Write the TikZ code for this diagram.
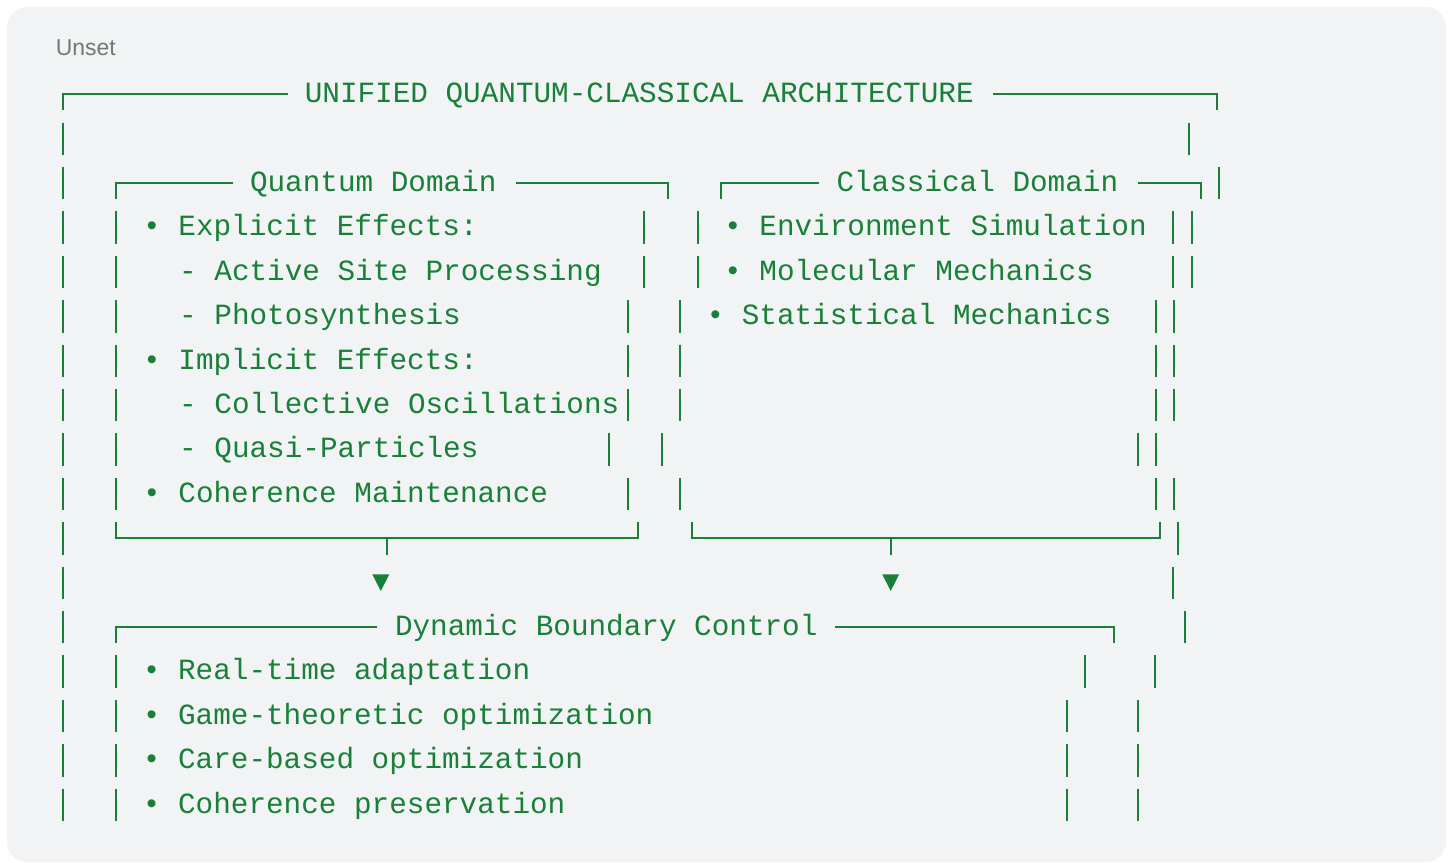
\documentclass[tikz,border=0pt]{standalone}
\usepackage{fontspec}
\setmonofont{Liberation Mono}
\newfontfamily\labelfont{Liberation Sans}
\definecolor{codegreen}{HTML}{188038}
\definecolor{codebg}{HTML}{F1F3F4}
\definecolor{labelgrey}{HTML}{747775}
\tikzset{
  boxline/.style={draw=codegreen, line width=1.5pt, line cap=butt, line join=miter},
  codetext/.style={anchor=base west, inner sep=0pt, outer sep=0pt, text=codegreen,
    font=\ttfamily\fontsize{22}{26}\selectfont},
  arrowtri/.style={fill=codegreen, draw=none},
}
% baseline of text row #1 (in px, y downwards)
\newcommand\setrow[1]{\pgfmathsetmacro\rowy{102.7+44.4*(#1)}}
% vertical bar: x, row
\newcommand\boxV[2]{\setrow{#2}\draw[boxline] (#1,\rowy-24.5) -- (#1,\rowy+7.8);}
% top-left corner at x1, line to x2: x1, x2, row
\newcommand\boxTL[3]{\setrow{#3}\draw[boxline] (#2,\rowy-8.4) -- (#1,\rowy-8.4) -- (#1,\rowy+7.8);}
% line from x1 to top-right corner at x2
\newcommand\boxTR[3]{\setrow{#3}\draw[boxline] (#1,\rowy-8.4) -- (#2,\rowy-8.4) -- (#2,\rowy+7.8);}
% bottom edge with corners at x1 and x2
\newcommand\boxBT[3]{\setrow{#3}\draw[boxline] (#1,\rowy-24.5) -- (#1,\rowy-8.4) -- (#2,\rowy-8.4) -- (#2,\rowy-24.5);}
% tee stem down
\newcommand\boxTee[2]{\setrow{#2}\draw[boxline] (#1,\rowy-8.4) -- (#1,\rowy+7.8);}
% text: name, x, row, text
\newcommand\codeline[4]{\setrow{#3}\node[codetext] (#1) at (#2,\rowy) {#4};}
% down triangle: name, center x
\newcommand\downtri[2]{\fill[arrowtri] (#2-8.5,574.3) -- (#2+8.5,574.3) -- (#2,591) -- cycle;
  \coordinate (#1) at (#2,582);}

\begin{document}
\begin{tikzpicture}[x=0.75pt,y=-0.75pt]
\useasboundingbox (0,0) rectangle (1453,863);
\fill[white] (0,0) rectangle (1453,863);
\fill[codebg, rounded corners=15pt] (7,7) rectangle (1446,862);
\node[anchor=base west, inner sep=0pt, text=labelgrey, font=\labelfont\fontsize{17.2}{20}\selectfont] (unset) at (55.5,55.3) {Unset};

% row 0
\boxTL{63}{288}{0}
\codeline{title}{304.8}{0}{UNIFIED QUANTUM-CLASSICAL ARCHITECTURE}
\boxTR{993}{1217}{0}
% row 1
\boxV{63}{1} \boxV{1189}{1}
% row 2
\boxV{63}{2}
\boxTL{116}{233}{2}
\codeline{qtitle}{250}{2}{Quantum Domain}
\boxTR{516}{668}{2}
\boxTL{721}{819}{2}
\codeline{ctitle}{836.5}{2}{Classical Domain}
\boxTR{1138}{1201}{2}
\boxV{1219}{2}
% row 3
\boxV{63}{3} \boxV{116}{3}
\codeline{q1}{143.2}{3}{• Explicit Effects:}
\boxV{644}{3} \boxV{698}{3}
\codeline{c1}{724.2}{3}{• Environment Simulation}
\boxV{1173}{3} \boxV{1192}{3}
% row 4
\boxV{63}{4} \boxV{116}{4}
\codeline{q2}{179.2}{4}{- Active Site Processing}
\boxV{644}{4} \boxV{698}{4}
\codeline{c2}{724.2}{4}{• Molecular Mechanics}
\boxV{1173}{4} \boxV{1192}{4}
% row 5
\boxV{63}{5} \boxV{116}{5}
\codeline{q3}{179.2}{5}{- Photosynthesis}
\boxV{628}{5} \boxV{680}{5}
\codeline{c3}{706.6}{5}{• Statistical Mechanics}
\boxV{1156}{5} \boxV{1174}{5}
% row 6
\boxV{63}{6} \boxV{116}{6}
\codeline{q4}{143.2}{6}{• Implicit Effects:}
\boxV{628}{6} \boxV{680}{6}
\boxV{1156}{6} \boxV{1174}{6}
% row 7
\boxV{63}{7} \boxV{116}{7}
\codeline{q5}{179.2}{7}{- Collective Oscillations}
\boxV{628}{7} \boxV{680}{7}
\boxV{1156}{7} \boxV{1174}{7}
% row 8
\boxV{63}{8} \boxV{116}{8}
\codeline{q6}{179.2}{8}{- Quasi-Particles}
\boxV{609}{8} \boxV{662}{8}
\boxV{1138}{8} \boxV{1156}{8}
% row 9
\boxV{63}{9} \boxV{116}{9}
\codeline{q7}{143.2}{9}{• Coherence Maintenance}
\boxV{628}{9} \boxV{680}{9}
\boxV{1156}{9} \boxV{1174}{9}
% row 10
\boxV{63}{10}
\boxBT{116}{638}{10}
\boxTee{387}{10}
\boxBT{692}{1160}{10}
\boxTee{891}{10}
\boxV{1178}{10}
% row 11
\boxV{63}{11}
\downtri{arrowq}{380.8}
\downtri{arrowc}{890.7}
\boxV{1173}{11}
% row 12
\boxV{63}{12}
\boxTL{116}{377}{12}
\codeline{dtitle}{395}{12}{Dynamic Boundary Control}
\boxTR{835}{1114}{12}
\boxV{1185}{12}
% row 13
\boxV{63}{13} \boxV{116}{13}
\codeline{d1}{142.9}{13}{• Real-time adaptation}
\boxV{1085}{13} \boxV{1155}{13}
% row 14
\boxV{63}{14} \boxV{116}{14}
\codeline{d2}{142.9}{14}{• Game-theoretic optimization}
\boxV{1067}{14} \boxV{1138}{14}
% row 15
\boxV{63}{15} \boxV{116}{15}
\codeline{d3}{142.9}{15}{• Care-based optimization}
\boxV{1067}{15} \boxV{1138}{15}
% row 16
\boxV{63}{16} \boxV{116}{16}
\codeline{d4}{142.9}{16}{• Coherence preservation}
\boxV{1067}{16} \boxV{1138}{16}
\end{tikzpicture}
\end{document}
